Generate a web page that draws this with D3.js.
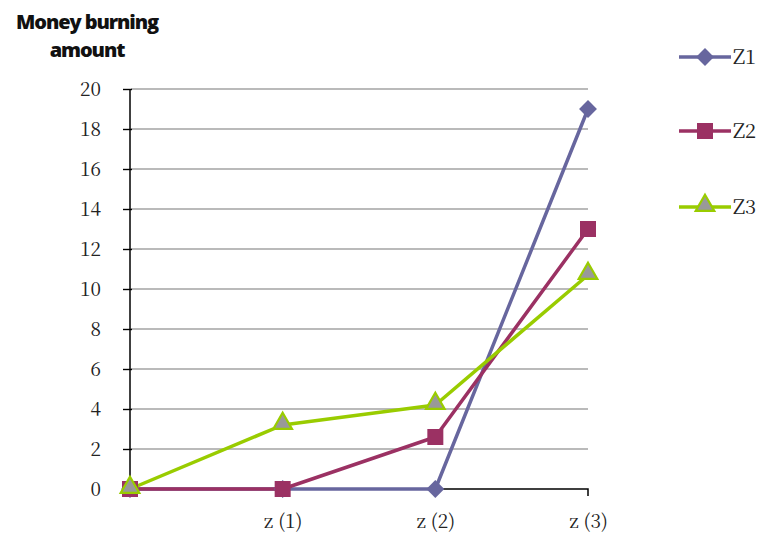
<!DOCTYPE html>
<html><head><meta charset="utf-8">
<script src="https://cdn.jsdelivr.net/npm/d3@7"></script>
<style>body{margin:0;background:#fff}svg{display:block}</style>
</head><body>
<svg id="c" width="761" height="533"></svg>
<script>
const categories = ["", "z (1)", "z (2)", "z (3)"];
const seriesNames = ["Z1", "Z2", "Z3"];
const z1 = [0, 0, 0, 19];
const z2 = [0, 0, 2.6, 13];
const z3 = [0, 3.2, 4.2, 10.7];
const yTicks = [0, 2, 4, 6, 8, 10, 12, 14, 16, 18, 20];
const titleLines = ["Money burning", "amount"];

const SERIF = '"Noto Serif CJK JP", "Noto Serif CJK SC", "Liberation Serif", serif';
const svg = d3.select("#c");
const x = d3.scalePoint().domain(categories).range([130, 588]);
const y = d3.scaleLinear().domain([0, 20]).range([489, 89]);

// gridlines
svg.append("g").selectAll("line").data(yTicks.filter(d => d > 0)).join("line")
  .attr("x1", 131).attr("x2", 588).attr("y1", d => y(d)).attr("y2", d => y(d))
  .attr("stroke", "#a3a3a3").attr("stroke-width", 1.4);

// y axis
const ya = svg.append("g").attr("transform", "translate(130,0)")
  .call(d3.axisLeft(y).tickValues(yTicks).tickSize(7).tickPadding(22).tickFormat(d3.format("d")));
ya.attr("font-family", null).attr("font-size", null);
ya.select(".domain").attr("stroke", "#000").attr("stroke-width", 1.5).attr("d", "M0," + y(20) + "V" + y(0));
ya.selectAll(".tick line").attr("stroke", "#000").attr("stroke-width", 1.4).attr("x2", -7).attr("x1", 2);
ya.selectAll("text").style("font-family", SERIF).style("font-size", "19px").attr("fill", "#222");

// x axis
const xa = svg.append("g").attr("transform", "translate(0,489)")
  .call(d3.axisBottom(x).tickSize(0).tickPadding(26));
xa.attr("font-family", null).attr("font-size", null);
xa.select(".domain").attr("stroke", "#000").attr("stroke-width", 1.5).attr("d", "M130,0H588V7");
xa.selectAll("text").style("font-family", SERIF).style("font-size", "19px").attr("fill", "#222");

const cfg = [
  {data: z1, color: "#67669e", fill: "#67669e", shape: d3.symbolSquare, size: 160, rot: 45, stroke: "none"},
  {data: z2, color: "#9b3163", fill: "#9b3163", shape: d3.symbolSquare, size: 256, rot: 0, stroke: "none"},
  {data: z3, color: "#99cc00", fill: "#999999", shape: d3.symbolTriangle, size: 150, rot: 0, stroke: "#99cc00"}
];
const line = d3.line().x((d, i) => x(categories[i])).y(d => y(d));
cfg.forEach(s => {
  svg.append("path").attr("d", line(s.data)).attr("fill", "none")
    .attr("stroke", s.color).attr("stroke-width", 3.5).attr("stroke-linejoin", "round");
});
function tf(s, px, py) {
  return `translate(${px},${py + (s.shape === d3.symbolTriangle ? -1.5 : 0)}) rotate(${s.rot})`;
}
cfg.forEach(s => {
  const sym = d3.symbol().type(s.shape).size(s.size);
  svg.append("g").selectAll("path").data(s.data).join("path")
    .attr("transform", (d, i) => tf(s, x(categories[i]), y(d)))
    .attr("d", sym()).attr("fill", s.fill).attr("stroke", s.stroke).attr("stroke-width", 2.2);
});

// legend
const legY = [57, 131, 207];
seriesNames.forEach((n, k) => {
  const s = cfg[k];
  const g = svg.append("g");
  g.append("line").attr("x1", 679).attr("x2", 731).attr("y1", legY[k]).attr("y2", legY[k])
    .attr("stroke", s.color).attr("stroke-width", 3.5);
  g.append("path").attr("d", d3.symbol().type(s.shape).size(s.size)())
    .attr("transform", tf(s, 705, legY[k]))
    .attr("fill", s.fill).attr("stroke", s.stroke).attr("stroke-width", 2.2);
  g.append("text").attr("x", 733).attr("y", legY[k] + 7).text(n)
    .style("font-family", SERIF).style("font-size", "20px").attr("fill", "#222");
});

// title
svg.append("text").attr("text-anchor", "middle")
  .style("font-family", '"Open Sans", sans-serif').style("font-weight", "800").style("font-size", "20px")
  .style("letter-spacing", "-1.1px").attr("fill", "#111")
  .selectAll("tspan").data(titleLines).join("tspan")
  .attr("x", 87).attr("y", (d, i) => i ? 57 : 29).text(d => d);
</script>
</body></html>
